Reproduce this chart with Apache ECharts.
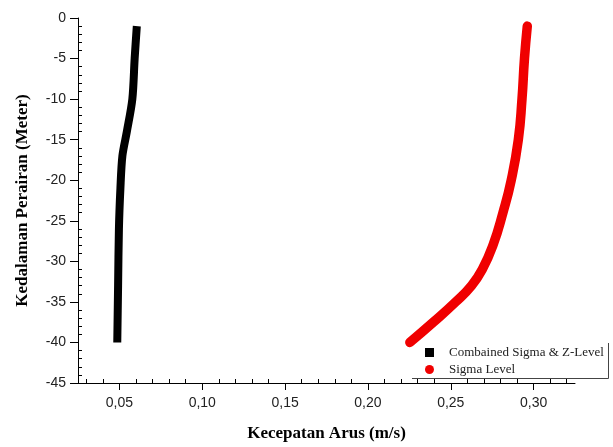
<!DOCTYPE html>
<html>
<head>
<meta charset="utf-8">
<script src="https://cdn.jsdelivr.net/npm/echarts@6/dist/echarts.min.js"></script>
<style>
  html, body { margin: 0; padding: 0; background: #fff; }
  #chart { width: 613px; height: 447px; }
</style>
</head>
<body>
<div id="chart"></div>
<script>
// depth (m) and current speed (m/s)
const combinedDepth = [-1, -5, -10, -14, -17, -21, -26, -33, -40];
const combinedSpeed = [0.0605, 0.0592, 0.0578, 0.0545, 0.0518, 0.0506, 0.0497, 0.0492, 0.0487];

const sigmaDepth = [-1, -5, -10, -15, -20, -24, -28, -31, -33, -35, -37.5, -40];
const sigmaSpeed = [0.2962, 0.2945, 0.2930, 0.2908, 0.2865, 0.2815, 0.2755, 0.2690, 0.2625, 0.2530, 0.2395, 0.2253];

const seriesNames = ["Combained Sigma & Z-Level", "Sigma Level"];

// x axis: labelled ticks and the small ticks between them
const xMajorTicks = [0.05, 0.10, 0.15, 0.20, 0.25, 0.30];
const xMinorTicks = [];
for (let k = 3; k <= 32; k++) {
  if (k % 5 !== 0) xMinorTicks.push(k / 100);
}

const chart = echarts.init(document.getElementById("chart"));

const serif = "'Liberation Serif', 'Times New Roman', serif";
const sans = "'Liberation Sans', Arial, sans-serif";

const X_MIN = 0.025;
const X_MAX = 0.325;

const option = {
  animation: false,
  backgroundColor: "#fff",
  grid: { left: 78, right: 38, top: 18, bottom: 61 },
  legend: {
    orient: "vertical",
    left: 425,
    top: 346,
    padding: 0,
    itemGap: 4,
    itemWidth: 9,
    itemHeight: 9,
    textStyle: { fontFamily: serif, fontSize: 13, color: "#222", padding: [0, 0, 0, 10] },
    data: [
      { name: seriesNames[0], icon: "rect" },
      { name: seriesNames[1], icon: "circle" },
    ],
  },
  xAxis: [
    {
      type: "value",
      min: X_MIN,
      max: X_MAX,
      position: "bottom",
      offset: 0,
      name: "Kecepatan Arus (m/s)",
      nameLocation: "middle",
      nameGap: 42,
      nameTextStyle: { fontFamily: serif, fontSize: 17, fontWeight: "bold", color: "#000" },
      axisLine: { show: true, onZero: false, lineStyle: { color: "#000", width: 1 } },
      axisTick: { show: true, length: 7, customValues: xMajorTicks, lineStyle: { color: "#000" } },
      splitLine: { show: false },
      axisLabel: {
        margin: 13,
        fontFamily: sans,
        fontSize: 14,
        color: "#222",
        customValues: xMajorTicks,
        formatter: (v) => v.toFixed(2).replace(".", ","),
      },
    },
    {
      type: "value",
      min: X_MIN,
      max: X_MAX,
      position: "bottom",
      offset: 0,
      axisLine: { show: false, onZero: false },
      axisTick: { show: true, inside: true, length: 4, customValues: xMinorTicks, lineStyle: { color: "#000" } },
      axisLabel: { show: false },
      splitLine: { show: false },
    },
  ],
  yAxis: {
    type: "value",
    min: -45,
    max: 0,
    interval: 5,
    name: "Kedalaman Perairan (Meter)",
    nameLocation: "middle",
    nameGap: 47,
    nameTextStyle: { fontFamily: serif, fontSize: 17, fontWeight: "bold", color: "#000" },
    axisLine: { show: true, onZero: false, lineStyle: { color: "#000", width: 1 } },
    axisTick: { show: true, length: 8, lineStyle: { color: "#000" } },
    minorTick: { show: true, splitNumber: 5, length: -4, lineStyle: { color: "#000" } },
    splitLine: { show: false },
    axisLabel: { margin: 12, fontFamily: sans, fontSize: 14, color: "#222" },
  },
  graphic: [
    {
      type: "polyline",
      shape: { points: [[412, 378.5], [608.5, 378.5], [608.5, 343]] },
      style: { stroke: "#444", lineWidth: 1, fill: null },
      z: 10,
    },
  ],
  series: [
    {
      name: seriesNames[0],
      type: "line",
      xAxisIndex: 0,
      data: combinedSpeed.map((s, i) => [s, combinedDepth[i]]),
      showSymbol: false,
      smooth: 0.3,
      color: "#000",
      lineStyle: { color: "#000", width: 8, cap: "butt", join: "round" },
    },
    {
      name: seriesNames[1],
      type: "line",
      xAxisIndex: 0,
      data: sigmaSpeed.map((s, i) => [s, sigmaDepth[i]]),
      showSymbol: false,
      smooth: 0.5,
      color: "#f00000",
      lineStyle: { color: "#f00000", width: 9.5, cap: "round", join: "round" },
    },
  ],
};

chart.setOption(option);
</script>
</body>
</html>
